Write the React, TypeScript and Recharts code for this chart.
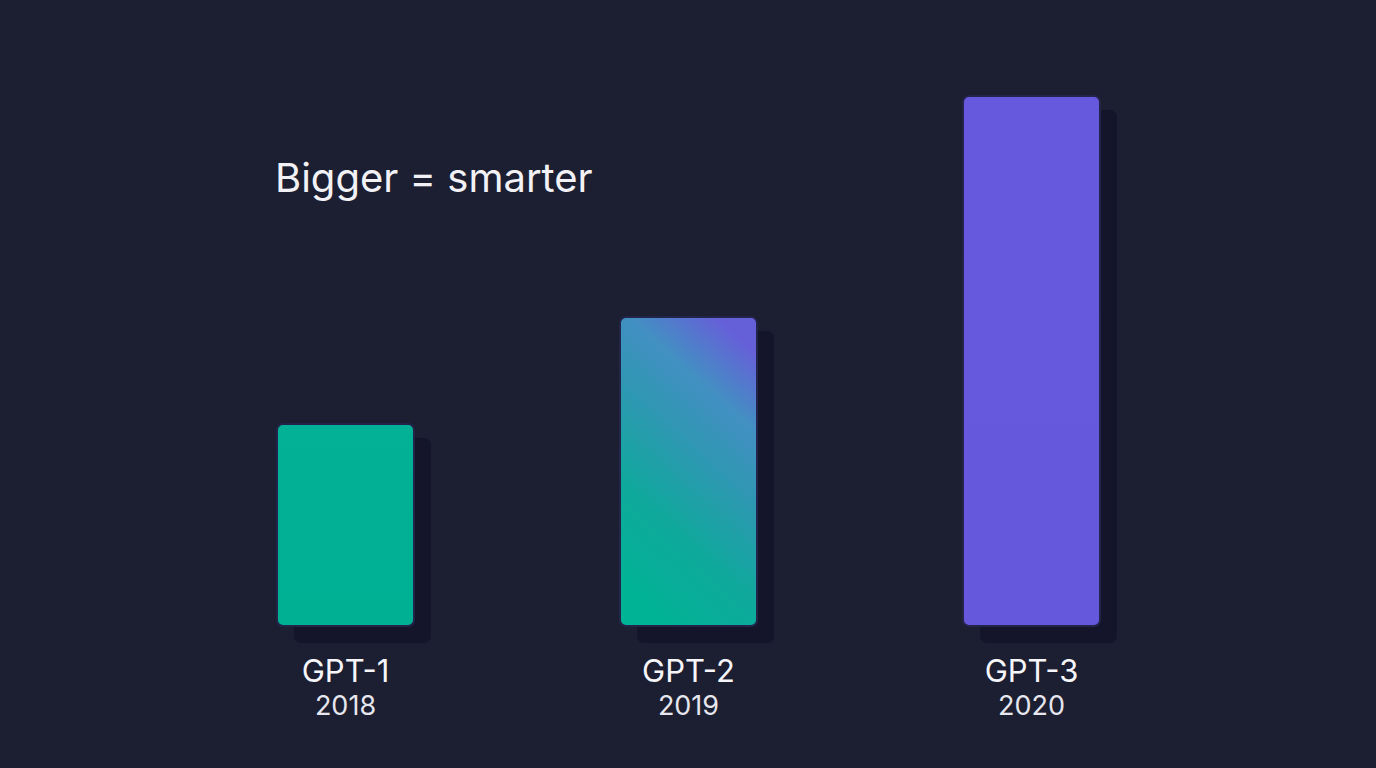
import React from "react";
import { BarChart, Bar, XAxis, YAxis, Cell } from "recharts";

const models = ["GPT-1", "GPT-2", "GPT-3"];
const years = ["2018", "2019", "2020"];
const sizes = [38.1, 58.3, 100];
const fills = ["url(#gTeal)", "url(#gMix)", "url(#gPurple)"];

const data = models.map((m, i) => ({ name: m, year: years[i], value: sizes[i], fill: fills[i] }));

const BarShape = (props: any) => {
  const { x, y, width, height, fill } = props;
  if (width == null || height == null) return null;
  return (
    <g>
      <rect x={x + 17} y={y + 14} width={width} height={height + 3} rx={7} ry={7} fill="#14152a" />
      <rect x={x} y={y} width={width} height={height} rx={6} ry={6} fill={fill} stroke="#23244a" strokeWidth={2} />
    </g>
  );
};

const Tick = (props: any) => {
  const { x, y, payload, index } = props;
  return (
    <g>
      <text x={x} y={y + 48} textAnchor="middle" fill="#f6f6fa" fontSize={31} fontFamily="Inter, sans-serif">
        {payload.value}
      </text>
      <text x={x} y={y + 81} textAnchor="middle" fill="#e6e6ee" fontSize={27} fontFamily="Inter, sans-serif">
        {years[index]}
      </text>
    </g>
  );
};

export default function App() {
  return (
    <div style={{ position: "fixed", left: 0, top: 0, width: 1376, height: 768, background: "#1c1e31", overflow: "hidden" }}>
      <div
        style={{
          position: "absolute",
          left: 275,
          top: 154,
          fontFamily: "Inter, sans-serif",
          fontSize: 40,
          color: "#f2f2f6",
          lineHeight: "48px",
          whiteSpace: "nowrap",
        }}
      >
        Bigger = smarter
      </div>
      <BarChart width={1376} height={768} data={data} margin={{ top: 96, right: 173, bottom: 112, left: 174 }} barCategoryGap={0}>
        <defs>
          <linearGradient id="gTeal" x1="0" y1="1" x2="0" y2="0">
            <stop offset="0%" stopColor="#00b093" />
            <stop offset="100%" stopColor="#03b196" />
          </linearGradient>
          <linearGradient id="gMix" x1="0.3" y1="1" x2="0.7" y2="0">
            <stop offset="0%" stopColor="#00b394" />
            <stop offset="30%" stopColor="#0fa99c" />
            <stop offset="60%" stopColor="#3196b4" />
            <stop offset="78%" stopColor="#4290c2" />
            <stop offset="100%" stopColor="#6660d8" />
          </linearGradient>
          <linearGradient id="gPurple" x1="0" y1="1" x2="0" y2="0">
            <stop offset="0%" stopColor="#6658dd" />
            <stop offset="100%" stopColor="#6659de" />
          </linearGradient>
        </defs>
        <XAxis dataKey="name" axisLine={false} tickLine={false} tick={<Tick />} interval={0} />
        <YAxis hide domain={[0, 100]} />
        <Bar dataKey="value" barSize={137} shape={<BarShape />} isAnimationActive={false}>
          {data.map((d, i) => (
            <Cell key={i} fill={d.fill} />
          ))}
        </Bar>
      </BarChart>
    </div>
  );
}
